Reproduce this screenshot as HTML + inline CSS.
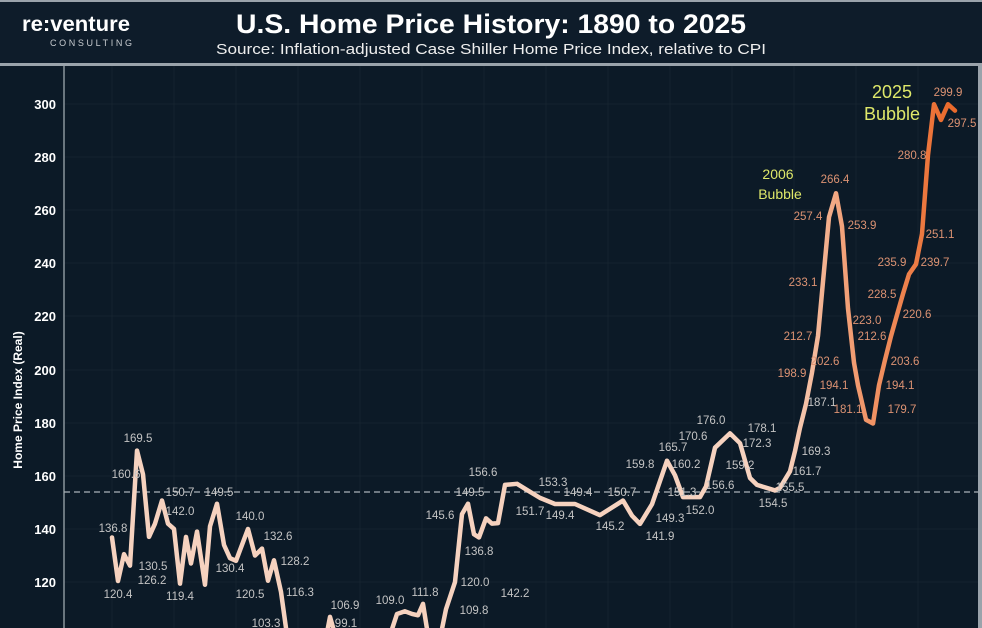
<!DOCTYPE html>
<html><head><meta charset="utf-8"><style>
html,body{margin:0;padding:0;background:#0c1a27;width:982px;height:628px;overflow:hidden;}
svg{display:block;font-family:"Liberation Sans",sans-serif;}
</style></head><body>
<svg width="982" height="628" viewBox="0 0 982 628" xmlns="http://www.w3.org/2000/svg">
<defs>
<linearGradient id="g" gradientUnits="userSpaceOnUse" x1="785" y1="0" x2="950" y2="0">
<stop offset="0" stop-color="#f6d2bf"/><stop offset="0.35" stop-color="#f2a27a"/><stop offset="1" stop-color="#ea6a2c"/>
</linearGradient>
</defs>
<rect x="0" y="0" width="982" height="628" fill="#0c1a27"/>
<rect x="0" y="0" width="982" height="63" fill="#0e1c2a"/>
<rect x="0" y="63" width="982" height="3" fill="#9aa3ab"/>
<rect x="978" y="63" width="4" height="565" fill="#9aa3ab"/>
<rect x="0" y="0" width="982" height="2" fill="#9aa3ab"/>
<text x="22" y="31" fill="#fff" font-size="21" font-weight="bold" textLength="108" lengthAdjust="spacingAndGlyphs">re:venture</text>
<text x="50" y="46" fill="#c8ccd0" font-size="9" textLength="82" lengthAdjust="spacing">CONSULTING</text>
<text x="236" y="33" fill="#fff" font-size="27" font-weight="bold" textLength="510" lengthAdjust="spacingAndGlyphs">U.S. Home Price History: 1890 to 2025</text>
<text x="216" y="54" fill="#eee" font-size="15" textLength="550" lengthAdjust="spacingAndGlyphs">Source: Inflation-adjusted Case Shiller Home Price Index, relative to CPI</text>
<g stroke="#15232f" stroke-width="1">
<line x1="112" y1="66" x2="112" y2="628"/><line x1="174" y1="66" x2="174" y2="628"/><line x1="236" y1="66" x2="236" y2="628"/><line x1="298" y1="66" x2="298" y2="628"/><line x1="360" y1="66" x2="360" y2="628"/><line x1="422" y1="66" x2="422" y2="628"/><line x1="484" y1="66" x2="484" y2="628"/><line x1="546" y1="66" x2="546" y2="628"/><line x1="608" y1="66" x2="608" y2="628"/><line x1="670" y1="66" x2="670" y2="628"/><line x1="732" y1="66" x2="732" y2="628"/><line x1="794" y1="66" x2="794" y2="628"/><line x1="856" y1="66" x2="856" y2="628"/><line x1="918" y1="66" x2="918" y2="628"/>
<line x1="64" y1="104" x2="978" y2="104"/><line x1="64" y1="157" x2="978" y2="157"/><line x1="64" y1="210" x2="978" y2="210"/><line x1="64" y1="263" x2="978" y2="263"/><line x1="64" y1="316" x2="978" y2="316"/><line x1="64" y1="370" x2="978" y2="370"/><line x1="64" y1="423" x2="978" y2="423"/><line x1="64" y1="476" x2="978" y2="476"/><line x1="64" y1="529" x2="978" y2="529"/><line x1="64" y1="582" x2="978" y2="582"/>
</g>
<line x1="64" y1="66" x2="64" y2="628" stroke="#8a949c" stroke-width="1.5"/>
<g fill="#fff" font-size="13" font-weight="bold" text-anchor="end">
<text x="56" y="109">300</text><text x="56" y="162">280</text><text x="56" y="215">260</text><text x="56" y="268">240</text><text x="56" y="321">220</text><text x="56" y="375">200</text><text x="56" y="428">180</text><text x="56" y="481">160</text><text x="56" y="534">140</text><text x="56" y="587">120</text>
</g>
<text transform="translate(22,400) rotate(-90)" fill="#fff" font-size="12" font-weight="bold" text-anchor="middle">Home Price Index (Real)</text>
<line x1="64" y1="492" x2="978" y2="492" stroke="#aab2b8" stroke-width="1.3" stroke-dasharray="6,4"/>
<g transform="translate(0,900.8) scale(1,-2.656)">
<polyline fill="none" stroke="url(#g)" stroke-width="4.5" vector-effect="non-scaling-stroke" stroke-linejoin="round" stroke-linecap="round" points="112,136.8 118,120.4 124,130.5 130,126.2 137,169.5 143,160.6 149,137 155,142 162,150.7 168,142 174,140 180,119.4 186,137 191,127 197,139 205,119 210,141 217,149.5 224,134 230,129 236,128 248,140 255,130 262,132.6 268,120.5 274,128.2 281,116.3 287,100 295,85 310,90 318,98 325,97 330,106.9 336,99 345,90 360,88 380,95 390,100 397,108 405,109 412,108 418,107.5 423,111.8 428,100 438,95 446,109.8 455,120 462,145.6 468,149.5 474,138 479,136.8 486,144 492,142 498,142.2 505,156.6 517,157 530,154 540,151.7 555,149.4 575,149.4 600,145.2 623,150.7 632,145 640,141.9 652,149.3 667,165.7 675,160.2 683,152 700,152 706,156 715,170.6 730,176 740,172.3 750,159.2 757,156.6 775,154.5 780,155.5 790,161.7 795,169.3 800,178.1 806,187.1 812,198.9 818,212.7 823,233.1 829,257.4 836,266.4 842,253.9 848,223 854,202.6 858,194.1 866,181.1 873,179.7 879,194.1 885,203.6 891,212.6 897,220.6 903,228.5 909,235.9 916,239.7 922,251.1 928,280.8 934,299.9 941,294 948,299.9 955,297.5"/>
</g>
<g fill="#c4c4c4" font-size="11.5" text-anchor="middle">
<text x="113" y="532">136.8</text><text x="118" y="598">120.4</text><text x="153" y="570">130.5</text><text x="152" y="584">126.2</text><text x="138" y="442">169.5</text><text x="126" y="478">160.6</text><text x="180" y="496">150.7</text><text x="180" y="515">142.0</text><text x="180" y="600">119.4</text><text x="219" y="496">149.5</text><text x="230" y="572">130.4</text><text x="250" y="520">140.0</text><text x="278" y="540">132.6</text><text x="250" y="598">120.5</text><text x="295" y="565">128.2</text><text x="300" y="596">116.3</text><text x="266" y="627">103.3</text><text x="345" y="609">106.9</text><text x="346" y="627">99.1</text><text x="390" y="604">109.0</text><text x="425" y="596">111.8</text><text x="474" y="614">109.8</text><text x="475" y="586">120.0</text><text x="440" y="519">145.6</text><text x="470" y="496">149.5</text><text x="479" y="555">136.8</text><text x="483" y="476">156.6</text><text x="515" y="597">142.2</text>
<text x="553" y="486">153.3</text><text x="530" y="515">151.7</text><text x="560" y="519">149.4</text><text x="578" y="496">149.4</text><text x="610" y="530">145.2</text><text x="622" y="496">150.7</text><text x="660" y="540">141.9</text><text x="670" y="522">149.3</text><text x="673" y="451">165.7</text><text x="640" y="468">159.8</text><text x="686" y="468">160.2</text><text x="682" y="496">151.3</text><text x="700" y="514">152.0</text><text x="693" y="440">170.6</text><text x="711" y="424">176.0</text><text x="757" y="447">172.3</text><text x="740" y="469">159.2</text><text x="720" y="489">156.6</text><text x="773" y="507">154.5</text><text x="790" y="491">155.5</text><text x="807" y="475">161.7</text><text x="816" y="455">169.3</text><text x="762" y="432">178.1</text><text x="822" y="406">187.1</text>
</g>
<g fill="#dd9373" font-size="11.5" text-anchor="middle">
<text x="792" y="377">198.9</text><text x="798" y="340">212.7</text><text x="803" y="286">233.1</text><text x="808" y="220">257.4</text><text x="835" y="183">266.4</text><text x="862" y="229">253.9</text><text x="867" y="324">223.0</text><text x="825" y="365">202.6</text><text x="834" y="389">194.1</text><text x="848" y="413">181.1</text><text x="902" y="413">179.7</text><text x="900" y="389">194.1</text><text x="905" y="365">203.6</text><text x="872" y="340">212.6</text><text x="917" y="318">220.6</text><text x="882" y="298">228.5</text><text x="892" y="266">235.9</text><text x="935" y="266">239.7</text><text x="940" y="238">251.1</text><text x="912" y="159">280.8</text><text x="948" y="96">299.9</text><text x="962" y="127">297.5</text>
</g>
<g fill="#dfe86a" text-anchor="middle">
<text x="778" y="179" font-size="14">2006</text><text x="780" y="199" font-size="14">Bubble</text>
<text x="892" y="98" font-size="18">2025</text><text x="892" y="120" font-size="18">Bubble</text>
</g>
</svg>
</body></html>
